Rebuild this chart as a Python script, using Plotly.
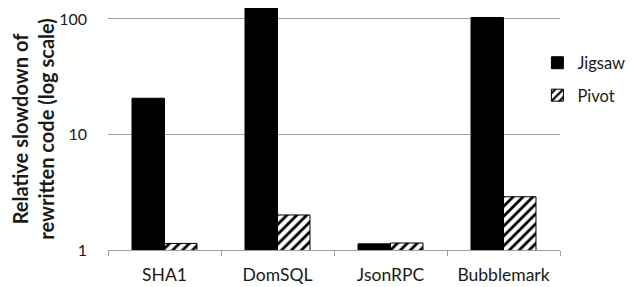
import plotly.graph_objects as go

categories = ["SHA1", "DomSQL", "JsonRPC", "Bubblemark"]
jigsaw = [20.6, 130, 1.13, 103]
pivot = [1.14, 2.01, 1.15, 2.89]
ytick_vals = [1, 10, 100]
ytick_text = ["1", "10", "100"]

FONT = "Lato"
TXT = "#1a1a1a"

fig = go.Figure()
fig.add_trace(go.Bar(
    name="Jigsaw", x=categories, y=jigsaw,
    marker=dict(color="black", line=dict(color="black", width=1)),
    legendgroup="a",
))
fig.add_trace(go.Bar(
    name="Pivot", x=categories, y=pivot,
    marker=dict(color="white", line=dict(color="black", width=1),
                pattern=dict(shape="/", fgcolor="black", bgcolor="white",
                             size=7, solidity=0.4, fillmode="replace")),
    legendgroup="b",
))

fig.update_layout(
    width=634, height=287,
    margin=dict(l=100, r=82, t=0, b=45, autoexpand=False),
    paper_bgcolor="white", plot_bgcolor="white",
    barmode="group", bargap=0.425, bargroupgap=0,
    font=dict(family=FONT, size=17, color=TXT),
    showlegend=True,
    legend=dict(x=0.950, xanchor="left", y=0.845, yanchor="top",
                font=dict(family=FONT, size=16.5, color=TXT),
                tracegroupgap=8, traceorder="grouped", itemwidth=30,
                bgcolor="rgba(0,0,0,0)"),
    xaxis=dict(
        type="category", tickson="boundaries", ticks="outside", ticklen=5,
        tickcolor="#a0a0a0", showline=True, linecolor="#a0a0a0", linewidth=1,
        showgrid=False, ticklabelstandoff=9,
        tickfont=dict(family=FONT, size=17.5, color=TXT),
    ),
    yaxis=dict(
        type="log", range=[0, 2.095], tickvals=ytick_vals, ticktext=ytick_text,
        showgrid=True, gridcolor="#a0a0a0", gridwidth=1, zeroline=False,
        showline=False, ticks="", ticklabelstandoff=20,
        tickfont=dict(family=FONT, size=16, color=TXT),
        title=dict(text="<b>Relative slowdown of<br>rewritten code (log scale)</b>",
                   font=dict(family=FONT, size=20, color=TXT), standoff=8),
    ),
)

fig.write_html("out.html")
